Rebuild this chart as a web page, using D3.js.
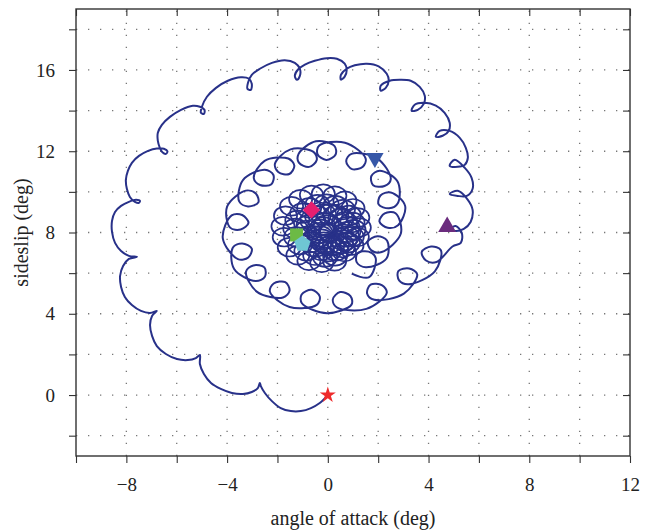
<!DOCTYPE html>
<html>
<head>
<meta charset="utf-8">
<script src="https://cdn.jsdelivr.net/npm/d3@7/dist/d3.min.js"></script>
<style>
  body { margin: 0; background: #fff; }
  svg text { font-family: "Liberation Serif", "DejaVu Serif", serif; fill: #222; }
</style>
</head>
<body>
<svg id="chart"></svg>
<script>
// axis ticks (deg)
var xTicks = [-10, -8, -6, -4, -2, 0, 2, 4, 6, 8, 10, 12];
var yTicks = [-2, 0, 2, 4, 6, 8, 10, 12, 14, 16, 18];
var xTickLabels = [-8, -4, 0, 4, 8, 12];
var yTickLabels = [0, 4, 8, 12, 16];

// trajectory: [angle of attack, sideslip] in deg
// outer spiral, from the start point up the left side and down the right
var outerPath = [
  [0.00,0.00],[-0.32,-0.39],[-0.67,-0.64],[-1.07,-0.79],[-1.47,-0.79],[-1.87,-0.64],[-2.22,-0.30],
  [-2.50,0.10],[-2.66,0.44],[-2.70,0.59],[-2.78,0.34],[-3.02,0.15],[-3.37,0.05],[-3.81,0.10],
  [-4.25,0.30],[-4.64,0.59],[-4.92,1.03],[-5.08,1.53],[-5.08,1.97],[-5.24,1.82],[-5.56,1.72],
  [-5.99,1.77],[-6.43,2.02],[-6.79,2.41],[-6.98,2.91],[-7.06,3.45],[-6.98,3.89],[-6.79,4.14],
  [-7.06,4.04],[-7.42,4.14],[-7.78,4.43],[-8.06,4.83],[-8.21,5.32],[-8.25,5.86],[-8.13,6.35],
  [-7.90,6.70],[-7.58,6.80],[-7.90,6.85],[-8.21,7.09],[-8.45,7.49],[-8.57,8.03],[-8.57,8.57],
  [-8.45,9.01],[-8.21,9.31],[-7.90,9.51],[-7.62,9.61],[-7.46,9.56],[-7.50,9.46],[-7.66,9.51],
  [-7.86,9.75],[-7.98,10.15],[-8.02,10.59],[-7.94,11.03],[-7.78,11.43],[-7.50,11.77],[-7.14,12.02],
  [-6.79,12.14],[-6.51,12.12],[-6.37,12.00],[-6.43,11.87],[-6.57,11.95],[-6.67,12.17],[-6.75,12.51],
  [-6.75,12.91],[-6.59,13.30],[-6.27,13.69],[-5.83,14.04],[-5.36,14.24],[-5.08,14.19],[-4.90,14.04],
  [-4.92,13.84],[-5.04,13.89],[-5.00,14.19],[-4.80,14.68],[-4.44,15.12],[-3.97,15.47],[-3.45,15.64],
  [-3.13,15.57],[-3.02,15.32],[-3.06,15.02],[-3.19,15.07],[-3.17,15.37],[-3.02,15.76],[-2.70,16.06],
  [-2.22,16.35],[-1.71,16.48],[-1.31,16.35],[-1.11,16.06],[-1.11,15.71],[-1.23,15.52],[-1.31,15.71],
  [-1.19,16.01],[-0.91,16.26],[-0.52,16.45],[-0.04,16.58],[0.36,16.55],[0.67,16.31],[0.75,16.01],
  [0.67,15.67],[0.52,15.52],[0.52,15.76],[0.75,16.06],[1.07,16.23],[1.55,16.31],[2.02,16.18],
  [2.34,15.81],[2.42,15.47],[2.30,15.12],[2.10,14.98],[2.10,15.22],[2.46,15.47],[2.86,15.52],
  [3.29,15.47],[3.65,15.17],[3.85,14.73],[3.81,14.33],[3.57,14.04],[3.33,13.99],[3.45,14.29],
  [3.85,14.38],[4.29,14.24],[4.64,13.89],[4.84,13.40],[4.80,13.00],[4.56,12.76],[4.29,12.71],
  [4.44,13.00],[4.84,13.00],[5.24,12.66],[5.48,12.17],[5.56,11.67],[5.44,11.33],[5.16,11.23],
  [4.84,11.28],[5.04,11.58],[5.44,11.18],[5.71,10.69],[5.75,10.15],[5.52,9.80],[5.16,9.80],
  [4.84,9.90],[5.16,10.05],[5.56,9.61],[5.75,9.11],[5.67,8.52],[5.40,8.18],[5.04,8.08],
  [4.88,8.18],[5.08,8.32],[5.32,7.98],[5.28,7.49]
];

// middle ring of loops (five points round each loop, then the outer arc point)
var middlePath = [
  [4.95,7.31],
  [4.32,6.55],[3.90,6.62],[3.73,7.04],[4.10,7.31],[4.49,7.13],[4.25,6.09],
  [3.20,5.45],[2.83,5.64],[2.80,6.10],[3.23,6.23],[3.55,5.94],[3.02,4.99],
  [1.85,4.69],[1.56,5.00],[1.70,5.43],[2.16,5.40],[2.34,5.03],[1.53,4.24],
  [0.35,4.32],[0.20,4.71],[0.49,5.07],[0.90,4.87],[0.94,4.45],[-0.03,4.03],
  [-1.03,4.52],[-1.04,4.95],[-0.64,5.18],[-0.32,4.85],[-0.44,4.44],[-1.52,4.33],
  [-2.30,5.09],[-2.15,5.49],[-1.69,5.56],[-1.52,5.14],[-1.78,4.80],[-2.81,5.08],
  [-3.25,6.07],[-2.96,6.38],[-2.52,6.28],[-2.50,5.82],[-2.87,5.61],[-3.72,6.20],
  [-3.77,7.26],[-3.40,7.46],[-3.02,7.21],[-3.16,6.77],[-3.57,6.69],[-4.17,7.71],
  [-3.82,8.84],[-3.40,8.86],[-3.15,8.47],[-3.46,8.15],[-3.88,8.24],[-4.00,9.27],
  [-3.26,10.06],[-2.86,9.92],[-2.76,9.48],[-3.17,9.28],[-3.52,9.53],[-3.37,10.58],
  [-2.50,11.09],[-2.16,10.83],[-2.24,10.38],[-2.69,10.34],[-2.94,10.68],[-2.51,11.53],
  [-1.57,11.64],[-1.33,11.29],[-1.53,10.88],[-1.97,10.98],[-2.10,11.38],[-1.48,12.09],
  [-0.57,11.97],[-0.44,11.57],[-0.74,11.23],[-1.15,11.44],[-1.16,11.87],[-0.47,12.49],
  [0.26,12.26],[0.31,11.84],[-0.06,11.57],[-0.41,11.86],[-0.34,12.28],[0.68,12.42],
  [1.50,11.65],[1.39,11.24],[0.96,11.12],[0.73,11.51],[0.94,11.87],[1.97,11.64],
  [2.50,10.63],[2.25,10.29],[1.80,10.33],[1.73,10.78],[2.06,11.04],[2.77,10.51],
  [2.78,9.44],[2.43,9.19],[2.02,9.38],[2.09,9.82],[2.50,9.97],[3.07,9.31],
  [2.79,8.36],[2.38,8.23],[2.05,8.54],[2.26,8.94],[2.69,8.95],[2.90,7.95],
  [2.14,7.04],[1.73,7.12],[1.59,7.56],[1.97,7.81],[2.35,7.61],[2.33,6.72],
  [1.51,6.29],[1.15,6.53],[1.18,6.98],[1.62,7.06],[1.90,6.74],[1.64,5.80],
  [0.95,5.98]
];

// inner rosette: loop centre (aoa, sideslip) and loop radius, deg
var rosetteLoops = [
  [0.27,6.58,0.46],[-0.24,6.51,0.46],[-0.75,6.61,0.46],[-1.19,6.88,0.46],[-1.53,7.28,0.46],
  [-1.73,7.77,0.46],[-1.78,8.31,0.46],[-1.68,8.83,0.46],[-1.44,9.29,0.46],[-1.08,9.64,0.46],
  [-0.65,9.85,0.46],[-0.18,9.91,0.46],[0.28,9.81,0.46],[0.68,9.56,0.46],[1.00,9.19,0.46],
  [1.19,8.74,0.46],[1.25,8.25,0.46],[1.17,7.78,0.46],[0.96,7.36,0.46],[0.66,7.04,0.46],
  [0.29,6.85,0.48],[-0.11,6.79,0.48],[-0.50,6.88,0.48],[-0.85,7.09,0.48],[-1.10,7.40,0.48],
  [-1.26,7.78,0.48],[-1.29,8.20,0.48],[-1.21,8.60,0.48],[-1.02,8.95,0.48],[-0.74,9.21,0.48],
  [-0.41,9.37,0.48],[-0.05,9.40,0.48],[0.30,9.32,0.48],[0.60,9.13,0.48],[0.84,8.84,0.48],
  [0.98,8.50,0.48],[1.02,8.14,0.48],[0.95,7.79,0.48],[0.80,7.49,0.48],[0.58,7.26,0.48],
  [0.31,7.12,0.5],[0.02,7.08,0.5],[-0.26,7.14,0.5],[-0.50,7.30,0.5],[-0.68,7.52,0.5],
  [-0.78,7.80,0.5],[-0.80,8.09,0.5],[-0.74,8.36,0.5],[-0.60,8.60,0.5],[-0.40,8.78,0.5],
  [-0.17,8.88,0.5],[0.08,8.90,0.5],[0.32,8.83,0.5],[0.52,8.69,0.5],[0.67,8.50,0.5],
  [0.76,8.27,0.5],[0.79,8.03,0.5],[0.74,7.80,0.5],[0.64,7.61,0.5],[0.50,7.47,0.5],
  [0.33,7.38,0.5],[0.15,7.36,0.5],[-0.02,7.41,0.5],[-0.16,7.51,0.5],[-0.26,7.65,0.5],
  [-0.31,7.81,0.5],[-0.31,7.98,0.5],[-0.27,8.13,0.5],[-0.18,8.26,0.5],[-0.06,8.35,0.5]
];

// event markers
var markerNames = ["start", "event1", "event2", "event3", "event4", "event5"];
var markerAoa = [0, 4.74, 1.87, -0.65, -1.24, -1.01];
var markerSideslip = [0, 8.28, 11.67, 9.11, 7.88, 7.44];

var width = 653, height = 530;
var margin = {top: 9, right: 23, bottom: 74, left: 76};
var plotW = width - margin.left - margin.right;
var plotH = height - margin.top - margin.bottom;

var svg = d3.select("#chart").attr("width", width).attr("height", height);
var x = d3.scaleLinear().domain([-10, 12]).range([0, plotW]);
var y = d3.scaleLinear().domain([-3, 19]).range([plotH, 0]);

var g = svg.append("g")
    .attr("transform", "translate(" + margin.left + "," + margin.top + ")");

// dotted grid
var gridStyle = function(sel) {
    sel.attr("stroke", "#777").attr("stroke-width", 1.3).attr("stroke-dasharray", "1.3,10.7");
};
g.append("g").selectAll("line")
    .data(xTicks.filter(function(d) { return d > -10 && d < 12; }))
    .join("line")
    .attr("x1", function(d) { return x(d); }).attr("x2", function(d) { return x(d); })
    .attr("y1", plotH).attr("y2", 0)
    .call(gridStyle);
g.append("g").selectAll("line")
    .data(yTicks)
    .join("line")
    .attr("y1", function(d) { return y(d); }).attr("y2", function(d) { return y(d); })
    .attr("x1", 0).attr("x2", plotW)
    .call(gridStyle);

var curveColor = "#283189";
var line = d3.line()
    .x(function(d) { return x(d[0]); })
    .y(function(d) { return y(d[1]); })
    .curve(d3.curveCatmullRom.alpha(0.5));

g.append("path")
    .datum(outerPath.concat(middlePath))
    .attr("d", line)
    .attr("fill", "none")
    .attr("stroke", curveColor)
    .attr("stroke-width", 2)
    .attr("stroke-linejoin", "round");

g.append("g").selectAll("ellipse")
    .data(rosetteLoops)
    .join("ellipse")
    .attr("cx", function(d) { return x(d[0]); })
    .attr("cy", function(d) { return y(d[1]); })
    .attr("rx", function(d) { return x(d[2]) - x(0); })
    .attr("ry", function(d) { return y(0) - y(d[2]); })
    .attr("fill", "none")
    .attr("stroke", curveColor)
    .attr("stroke-width", 1.7);

// markers
var pentagon = d3.lineRadial()
    .angle(function(d) { return d * 2 * Math.PI / 5; })
    .radius(8.5)
    .curve(d3.curveLinearClosed);
var markerStyle = {
    start:  {path: d3.symbol().type(d3.symbolStar).size(80)(), rot: 0, color: "#ee2a2b"},
    event1: {path: d3.symbol().type(d3.symbolTriangle).size(140)(), rot: 0, color: "#6b2c7e"},
    event2: {path: d3.symbol().type(d3.symbolTriangle).size(130)(), rot: 180, color: "#3657a7"},
    event3: {path: d3.symbol().type(d3.symbolSquare).size(150)(), rot: 45, color: "#e61f6f"},
    event4: {path: d3.symbol().type(d3.symbolSquare).size(170)(), rot: 0, color: "#6cba45"},
    event5: {path: pentagon([0, 1, 2, 3, 4]), rot: 0, color: "#6fc6d3"}
};
g.append("g").selectAll("path")
    .data(markerNames)
    .join("path")
    .attr("d", function(d) { return markerStyle[d].path; })
    .attr("transform", function(d, i) {
        return "translate(" + x(markerAoa[i]) + "," + y(markerSideslip[i]) + ") rotate(" + markerStyle[d].rot + ")";
    })
    .attr("fill", function(d) { return markerStyle[d].color; });

// axes: ticks out on left/bottom, in on top/right
var fmt = d3.format("d");
var styleAxis = function(sel) {
    sel.select(".domain").remove();
    sel.selectAll(".tick line").attr("stroke", "#333").attr("stroke-width", 1.1);
    sel.selectAll("text").attr("font-family", "'Liberation Serif', 'DejaVu Serif', serif")
        .attr("font-size", 19).attr("fill", "#222");
};
g.append("g")
    .attr("transform", "translate(0," + plotH + ")")
    .call(d3.axisBottom(x).tickValues(xTicks).tickSize(7).tickPadding(15)
        .tickFormat(function(d) { return xTickLabels.indexOf(d) >= 0 ? fmt(d) : ""; }))
    .call(styleAxis);
g.append("g")
    .call(d3.axisLeft(y).tickValues(yTicks).tickSize(7).tickPadding(14)
        .tickFormat(function(d) { return yTickLabels.indexOf(d) >= 0 ? fmt(d) : ""; }))
    .call(styleAxis);
g.append("g")
    .call(d3.axisBottom(x).tickValues(xTicks).tickSize(7).tickFormat(""))
    .call(styleAxis);
g.append("g")
    .attr("transform", "translate(" + plotW + ",0)")
    .call(d3.axisLeft(y).tickValues(yTicks).tickSize(7).tickFormat(""))
    .call(styleAxis);

g.append("rect")
    .attr("width", plotW).attr("height", plotH)
    .attr("fill", "none").attr("stroke", "#333").attr("stroke-width", 1.4);

// axis titles
svg.append("text")
    .attr("x", margin.left + plotW / 2).attr("y", 525)
    .attr("text-anchor", "middle").attr("font-size", 20)
    .text("angle of attack (deg)");
svg.append("text")
    .attr("transform", "translate(28," + (margin.top + plotH / 2) + ") rotate(-90)")
    .attr("text-anchor", "middle").attr("font-size", 20)
    .text("sideslip (deg)");
</script>
</body>
</html>
